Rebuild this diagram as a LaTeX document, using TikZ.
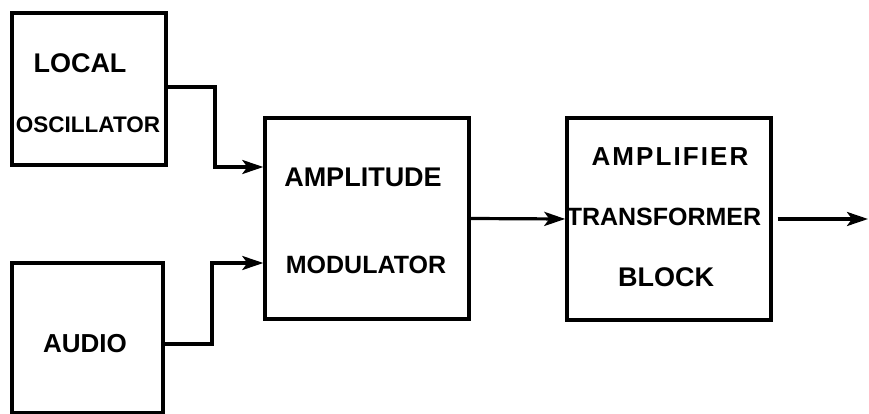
\documentclass[tikz,border=0pt]{standalone}
\usepackage{fontspec}
\setmainfont{Liberation Sans}
\newfontfamily\spacedfont[LetterSpace=8]{Liberation Sans}
\usetikzlibrary{arrows.meta}
\tikzset{
  blk/.style={draw, line width=3.4pt, inner sep=0pt},
  lbl/.style={inner sep=0pt, font=\bfseries\fontsize{26}{28}\selectfont},
  arr/.style={line width=3.2pt, -{Stealth[length=21pt,width=14pt,inset=5pt]}},
}
\begin{document}
\begin{tikzpicture}[x=1pt,y=-1pt]
\useasboundingbox (0,0) rectangle (869,414);
% boxes
\node[blk, minimum width=154pt, minimum height=152pt] (lo) at (89,89) {};
\node[blk, minimum width=151pt, minimum height=150pt] (au) at (87.5,338) {};
\node[blk, minimum width=204pt, minimum height=201pt] (am) at (367,218.5) {};
\node[blk, minimum width=204pt, minimum height=202pt] (at) at (669,219) {};
% labels
\node[lbl, font=\bfseries\fontsize{27}{28}\selectfont] (t1) at (80,63) {LOCAL};
\node[lbl, font=\bfseries\fontsize{22.5}{24}\selectfont] (t2) at (88,125) {OSCILLATOR};
\node[lbl] (t3) at (85,344) {AUDIO};
\node[lbl, font=\bfseries\fontsize{27}{28}\selectfont] (t4) at (363,177) {AMPLITUDE};
\node[lbl, font=\bfseries\fontsize{25}{28}\selectfont] (t5) at (366,265) {MODULATOR};
\node[lbl, font=\spacedfont\bfseries\fontsize{26}{28}\selectfont] (t6) at (670,157) {AMPLIFIER};
\node[lbl, font=\bfseries\fontsize{25}{28}\selectfont] (t7) at (664,217) {TRANSFORMER};
\node[lbl, font=\bfseries\fontsize{27}{28}\selectfont] (t8) at (666,277) {BLOCK};
% connectors
\coordinate (j1) at (215,0);
\coordinate (j2) at (212,0);
\coordinate (out) at (868,219);
\draw[arr] ([yshift=2pt]lo.east) -| (j1 |- 0,167) -- (am.west |- 0,167);
\draw[arr] ([yshift=-6pt]au.east) -| (j2 |- 0,263) -- (am.west |- 0,263);
\draw[arr] (am.east) -- (at.west);
\draw[arr] ([xshift=5pt]at.east) -- (out);
\end{tikzpicture}
\end{document}
